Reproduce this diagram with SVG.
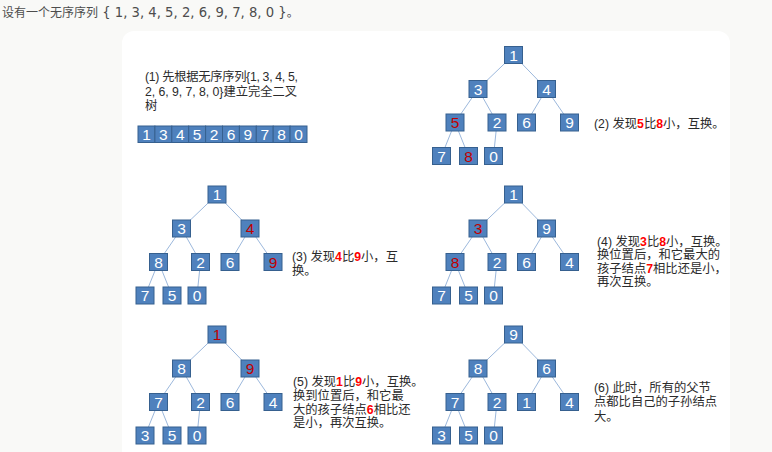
<svg xmlns="http://www.w3.org/2000/svg" width="772" height="452" viewBox="0 0 772 452">
<style>
.bg{fill:#f9f9f7}
.panel{fill:#ffffff}
.n rect{fill:#4f81bd;stroke:#36608f;stroke-width:1}
.n text{fill:#ffffff;font-family:"Liberation Sans","DejaVu Sans",sans-serif;font-size:15.5px;text-anchor:middle}
.n text.r{fill:#c00000}
.e line{stroke:#9cb8dc;stroke-width:1}
.t{fill:#2b2b2b;font-family:"Liberation Sans","Noto Sans CJK SC",sans-serif;font-size:12.3px}
.t .h{fill:#ff0000;font-weight:bold}
.title{fill:#4d4d4d;font-family:"Noto Sans CJK SC",sans-serif;font-size:12px}
.title .m{font-family:"DejaVu Sans",sans-serif;font-size:13.2px}
</style>
<rect class="bg" x="0" y="0" width="772" height="452"/>
<rect class="panel" x="122" y="31" width="608" height="440" rx="12"/>
<text class="title" x="2" y="17">设有一个无序序列<tspan class="m"> { 1, 3, 4, 5, 2, 6, 9, 7, 8, 0 }</tspan>。</text>

<text class="t" x="145" y="80.5" textLength="153" lengthAdjust="spacing">(1) 先根据无序序列{1, 3, 4, 5,</text>
<text class="t" x="145" y="95.5" textLength="152" lengthAdjust="spacing">2, 6, 9, 7, 8, 0}建立完全二叉</text>
<text class="t" x="145" y="109.5">树</text>

<g id="array">
<g id="a0" class="n"><rect x="138" y="126" width="16.9" height="16.5"/><text x="146.45" y="139.5">1</text></g>
<g id="a1" class="n"><rect x="154.9" y="126" width="16.9" height="16.5"/><text x="163.35" y="139.5">3</text></g>
<g id="a2" class="n"><rect x="171.8" y="126" width="16.9" height="16.5"/><text x="180.25" y="139.5">4</text></g>
<g id="a3" class="n"><rect x="188.7" y="126" width="16.9" height="16.5"/><text x="197.15" y="139.5">5</text></g>
<g id="a4" class="n"><rect x="205.6" y="126" width="16.9" height="16.5"/><text x="214.05" y="139.5">2</text></g>
<g id="a5" class="n"><rect x="222.5" y="126" width="16.9" height="16.5"/><text x="230.95" y="139.5">6</text></g>
<g id="a6" class="n"><rect x="239.4" y="126" width="16.9" height="16.5"/><text x="247.85" y="139.5">9</text></g>
<g id="a7" class="n"><rect x="256.3" y="126" width="16.9" height="16.5"/><text x="264.75" y="139.5">7</text></g>
<g id="a8" class="n"><rect x="273.2" y="126" width="16.9" height="16.5"/><text x="281.65" y="139.5">8</text></g>
<g id="a9" class="n"><rect x="290.1" y="126" width="16.9" height="16.5"/><text x="298.55" y="139.5">0</text></g>
</g>

<g id="connectors" class="e">
<!-- Tree A -->
<line x1="513.5" y1="55" x2="478" y2="89"/><line x1="513.5" y1="55" x2="546.5" y2="89"/>
<line x1="478" y1="89" x2="455" y2="122.5"/><line x1="478" y1="89" x2="497" y2="122.5"/>
<line x1="546.5" y1="89" x2="526.5" y2="122.5"/><line x1="546.5" y1="89" x2="569.5" y2="122.5"/>
<line x1="455" y1="122.5" x2="441.5" y2="156"/><line x1="455" y1="122.5" x2="468.5" y2="156"/>
<line x1="497" y1="122.5" x2="493.5" y2="156"/>
<!-- Tree C -->
<line x1="513.5" y1="194.5" x2="478" y2="228.5"/><line x1="513.5" y1="194.5" x2="546.5" y2="228.5"/>
<line x1="478" y1="228.5" x2="455" y2="262"/><line x1="478" y1="228.5" x2="497" y2="262"/>
<line x1="546.5" y1="228.5" x2="526.5" y2="262"/><line x1="546.5" y1="228.5" x2="569.5" y2="262"/>
<line x1="455" y1="262" x2="441.5" y2="295.5"/><line x1="455" y1="262" x2="468.5" y2="295.5"/>
<line x1="497" y1="262" x2="493.5" y2="295.5"/>
<!-- Tree E -->
<line x1="513.5" y1="334.5" x2="478" y2="368.5"/><line x1="513.5" y1="334.5" x2="546.5" y2="368.5"/>
<line x1="478" y1="368.5" x2="455" y2="402"/><line x1="478" y1="368.5" x2="497" y2="402"/>
<line x1="546.5" y1="368.5" x2="526.5" y2="402"/><line x1="546.5" y1="368.5" x2="569.5" y2="402"/>
<line x1="455" y1="402" x2="441.5" y2="435.5"/><line x1="455" y1="402" x2="468.5" y2="435.5"/>
<line x1="497" y1="402" x2="493.5" y2="435.5"/>
<!-- Tree B -->
<line x1="217" y1="194.5" x2="181.5" y2="228.5"/><line x1="217" y1="194.5" x2="250" y2="228.5"/>
<line x1="181.5" y1="228.5" x2="158.5" y2="262"/><line x1="181.5" y1="228.5" x2="200.5" y2="262"/>
<line x1="250" y1="228.5" x2="230" y2="262"/><line x1="250" y1="228.5" x2="273" y2="262"/>
<line x1="158.5" y1="262" x2="145" y2="295.5"/><line x1="158.5" y1="262" x2="172" y2="295.5"/>
<line x1="200.5" y1="262" x2="197" y2="295.5"/>
<!-- Tree D -->
<line x1="217" y1="334.5" x2="181.5" y2="368.5"/><line x1="217" y1="334.5" x2="250" y2="368.5"/>
<line x1="181.5" y1="368.5" x2="158.5" y2="402"/><line x1="181.5" y1="368.5" x2="200.5" y2="402"/>
<line x1="250" y1="368.5" x2="230" y2="402"/><line x1="250" y1="368.5" x2="273" y2="402"/>
<line x1="158.5" y1="402" x2="145" y2="435.5"/><line x1="158.5" y1="402" x2="172" y2="435.5"/>
<line x1="200.5" y1="402" x2="197" y2="435.5"/>
</g>

<!-- Tree A nodes -->
<g id="A1" class="n"><rect x="504.5" y="46.5" width="18" height="17"/><text x="513.5" y="60.5">1</text></g>
<g id="A3" class="n"><rect x="469" y="80.5" width="18" height="17"/><text x="478" y="94.5">3</text></g>
<g id="A4" class="n"><rect x="537.5" y="80.5" width="18" height="17"/><text x="546.5" y="94.5">4</text></g>
<g id="A5" class="n"><rect x="446" y="114" width="18" height="17"/><text class="r" x="455" y="128">5</text></g>
<g id="A2" class="n"><rect x="488" y="114" width="18" height="17"/><text x="497" y="128">2</text></g>
<g id="A6" class="n"><rect x="517.5" y="114" width="18" height="17"/><text x="526.5" y="128">6</text></g>
<g id="A9" class="n"><rect x="560.5" y="114" width="18" height="17"/><text x="569.5" y="128">9</text></g>
<g id="A7" class="n"><rect x="432.5" y="147.5" width="18" height="17"/><text x="441.5" y="161.5">7</text></g>
<g id="A8" class="n"><rect x="459.5" y="147.5" width="18" height="17"/><text class="r" x="468.5" y="161.5">8</text></g>
<g id="A0" class="n"><rect x="484.5" y="147.5" width="18" height="17"/><text x="493.5" y="161.5">0</text></g>
<text class="t" x="594" y="127.5">(2) 发现<tspan class="h">5</tspan>比<tspan class="h">8</tspan>小，互换。</text>

<!-- Tree B nodes -->
<g id="B1" class="n"><rect x="208" y="186" width="18" height="17"/><text x="217" y="200">1</text></g>
<g id="B3" class="n"><rect x="172.5" y="220" width="18" height="17"/><text x="181.5" y="234">3</text></g>
<g id="B4" class="n"><rect x="241" y="220" width="18" height="17"/><text class="r" x="250" y="234">4</text></g>
<g id="B8" class="n"><rect x="149.5" y="253.5" width="18" height="17"/><text x="158.5" y="267.5">8</text></g>
<g id="B2" class="n"><rect x="191.5" y="253.5" width="18" height="17"/><text x="200.5" y="267.5">2</text></g>
<g id="B6" class="n"><rect x="221" y="253.5" width="18" height="17"/><text x="230" y="267.5">6</text></g>
<g id="B9" class="n"><rect x="264" y="253.5" width="18" height="17"/><text class="r" x="273" y="267.5">9</text></g>
<g id="B7" class="n"><rect x="136" y="287" width="18" height="17"/><text x="145" y="301">7</text></g>
<g id="B5" class="n"><rect x="163" y="287" width="18" height="17"/><text x="172" y="301">5</text></g>
<g id="B0" class="n"><rect x="188" y="287" width="18" height="17"/><text x="197" y="301">0</text></g>
<text class="t" x="292" y="261">(3) 发现<tspan class="h">4</tspan>比<tspan class="h">9</tspan>小，互</text>
<text class="t" x="292" y="275">换。</text>

<!-- Tree C nodes -->
<g id="C1" class="n"><rect x="504.5" y="186" width="18" height="17"/><text x="513.5" y="200">1</text></g>
<g id="C3" class="n"><rect x="469" y="220" width="18" height="17"/><text class="r" x="478" y="234">3</text></g>
<g id="C9" class="n"><rect x="537.5" y="220" width="18" height="17"/><text x="546.5" y="234">9</text></g>
<g id="C8" class="n"><rect x="446" y="253.5" width="18" height="17"/><text class="r" x="455" y="267.5">8</text></g>
<g id="C2" class="n"><rect x="488" y="253.5" width="18" height="17"/><text x="497" y="267.5">2</text></g>
<g id="C6" class="n"><rect x="517.5" y="253.5" width="18" height="17"/><text x="526.5" y="267.5">6</text></g>
<g id="C4" class="n"><rect x="560.5" y="253.5" width="18" height="17"/><text x="569.5" y="267.5">4</text></g>
<g id="C7" class="n"><rect x="432.5" y="287" width="18" height="17"/><text x="441.5" y="301">7</text></g>
<g id="C5" class="n"><rect x="459.5" y="287" width="18" height="17"/><text x="468.5" y="301">5</text></g>
<g id="C0" class="n"><rect x="484.5" y="287" width="18" height="17"/><text x="493.5" y="301">0</text></g>
<text class="t" x="597" y="245.5">(4) 发现<tspan class="h">3</tspan>比<tspan class="h">8</tspan>小，互换。</text>
<text class="t" x="597" y="259">换位置后，和它最大的</text>
<text class="t" x="597" y="272.5">孩子结点<tspan class="h">7</tspan>相比还是小，</text>
<text class="t" x="597" y="286">再次互换。</text>

<!-- Tree D nodes -->
<g id="D1" class="n"><rect x="208" y="326" width="18" height="17"/><text class="r" x="217" y="340">1</text></g>
<g id="D8" class="n"><rect x="172.5" y="360" width="18" height="17"/><text x="181.5" y="374">8</text></g>
<g id="D9" class="n"><rect x="241" y="360" width="18" height="17"/><text class="r" x="250" y="374">9</text></g>
<g id="D7" class="n"><rect x="149.5" y="393.5" width="18" height="17"/><text x="158.5" y="407.5">7</text></g>
<g id="D2" class="n"><rect x="191.5" y="393.5" width="18" height="17"/><text x="200.5" y="407.5">2</text></g>
<g id="D6" class="n"><rect x="221" y="393.5" width="18" height="17"/><text x="230" y="407.5">6</text></g>
<g id="D4" class="n"><rect x="264" y="393.5" width="18" height="17"/><text x="273" y="407.5">4</text></g>
<g id="D3" class="n"><rect x="136" y="427" width="18" height="17"/><text x="145" y="441">3</text></g>
<g id="D5" class="n"><rect x="163" y="427" width="18" height="17"/><text x="172" y="441">5</text></g>
<g id="D0" class="n"><rect x="188" y="427" width="18" height="17"/><text x="197" y="441">0</text></g>
<text class="t" x="293" y="386">(5) 发现<tspan class="h">1</tspan>比<tspan class="h">9</tspan>小，互换。</text>
<text class="t" x="293" y="400">换到位置后，和它最</text>
<text class="t" x="293" y="413.5">大的孩子结点<tspan class="h">6</tspan>相比还</text>
<text class="t" x="293" y="427">是小，再次互换。</text>

<!-- Tree E nodes -->
<g id="E9" class="n"><rect x="504.5" y="326" width="18" height="17"/><text x="513.5" y="340">9</text></g>
<g id="E8" class="n"><rect x="469" y="360" width="18" height="17"/><text x="478" y="374">8</text></g>
<g id="E6" class="n"><rect x="537.5" y="360" width="18" height="17"/><text x="546.5" y="374">6</text></g>
<g id="E7" class="n"><rect x="446" y="393.5" width="18" height="17"/><text x="455" y="407.5">7</text></g>
<g id="E2" class="n"><rect x="488" y="393.5" width="18" height="17"/><text x="497" y="407.5">2</text></g>
<g id="E1" class="n"><rect x="517.5" y="393.5" width="18" height="17"/><text x="526.5" y="407.5">1</text></g>
<g id="E4" class="n"><rect x="560.5" y="393.5" width="18" height="17"/><text x="569.5" y="407.5">4</text></g>
<g id="E3" class="n"><rect x="432.5" y="427" width="18" height="17"/><text x="441.5" y="441">3</text></g>
<g id="E5" class="n"><rect x="459.5" y="427" width="18" height="17"/><text x="468.5" y="441">5</text></g>
<g id="E0" class="n"><rect x="484.5" y="427" width="18" height="17"/><text x="493.5" y="441">0</text></g>
<text class="t" x="594" y="392">(6) 此时，所有的父节</text>
<text class="t" x="594" y="406">点都比自己的子孙结点</text>
<text class="t" x="594" y="420.5">大。</text>
</svg>
